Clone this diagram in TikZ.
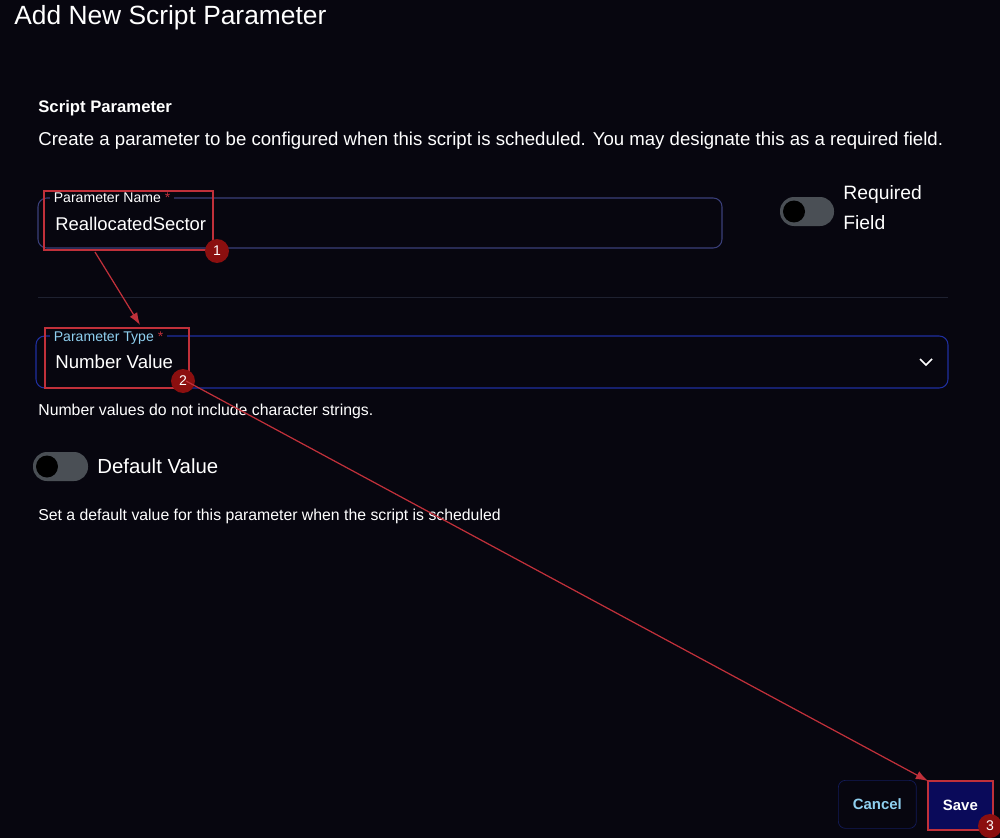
\documentclass[tikz,border=0pt]{standalone}
\usepackage{fontspec}
\setmainfont{Liberation Sans}
\usepackage{xcolor}
\usetikzlibrary{arrows.meta}
\definecolor{bgdark}{HTML}{07060F}
\definecolor{fieldline}{HTML}{3A3F7A}
\definecolor{focusline}{HTML}{1F2FA0}
\definecolor{hlred}{HTML}{C0303A}
\definecolor{badgered}{HTML}{8B0F0F}
\definecolor{togglegray}{HTML}{4A4F55}
\definecolor{labelblue}{HTML}{8FD0F0}
\definecolor{sepline}{HTML}{1E2130}
\definecolor{savefill}{HTML}{0A0A5A}
\tikzset{
  txt/.style={text=white, anchor=west, inner sep=0pt, font=\fontsize{9}{11}\selectfont},
  field/.style={draw=fieldline, rounded corners=5pt, line width=0.6pt},
  hlbox/.style={draw=hlred, line width=1pt},
  badge/.style={circle, fill=badgered, text=white, minimum size=0.48cm, inner sep=0pt, font=\fontsize{8}{9}\selectfont},
  toggle/.style={fill=togglegray, rounded corners=0.28cm},
  knob/.style={circle, fill=black, minimum size=0.44cm, inner sep=0pt},
  redarrow/.style={draw=hlred, line width=0.7pt, -{Latex[length=7pt,width=5pt]}}
}
\begin{document}
\begin{tikzpicture}[x=0.02cm, y=-0.02cm]
\fill[bgdark] (0,0) rectangle (1000,838);
\useasboundingbox (0,0) rectangle (1000,838);

\node (title) [txt, font=\fontsize{15}{17}\selectfont] at (14,18) {Add New Script Parameter};
\node (head) [txt, font=\bfseries\fontsize{9.5}{11}\selectfont] at (38,108) {Script Parameter};
\node (desc) [txt, font=\fontsize{10.6}{12}\selectfont] at (38,141) {Create a parameter to be configured when this script is scheduled. You may designate this as a required field.};

% parameter name
\draw[field] (38,198) rectangle (722,248);
\node (namelbl) [txt, fill=bgdark, inner xsep=2pt, font=\fontsize{8}{9}\selectfont] at (50,198) {Parameter Name \textcolor{hlred}{*}};
\node (nameval) [txt, font=\fontsize{10.5}{12}\selectfont] at (55,224) {ReallocatedSector};
\node (namebox) [hlbox, minimum width=3.38cm, minimum height=1.18cm, anchor=north west] at (43,190) {};
\node (b1) [badge] at (217,251) {1};

\fill[toggle] (780,197) rectangle (834,226);
\node (reqknob) [knob] at (794,211.5) {};
\node (req) [txt, font=\fontsize{11}{17}\selectfont, align=left, anchor=north west] at (843,185) {Required\\Field};

\draw[sepline] (38,297) -- (948,297);

% parameter type
\draw[field, draw=focusline] (36,336) rectangle (948,388);
\node (typelbl) [txt, fill=bgdark, inner xsep=2pt, text=labelblue, font=\fontsize{8}{9}\selectfont] at (50,338) {Parameter Type \textcolor{hlred}{*}};
\node (typeval) [txt, font=\fontsize{10.6}{12}\selectfont] at (55,362) {Number Value};
\draw[white, line width=0.9pt] (920,359) -- (926,365) -- (932,359);
\node (typebox) [hlbox, minimum width=2.88cm, minimum height=1.2cm, anchor=north west] at (44,327) {};
\node (b2) [badge] at (183,381) {2};

\node (hint) [txt, font=\fontsize{9}{10}\selectfont] at (38,411) {Number values do not include character strings.};

\fill[toggle] (33,452) rectangle (88,481);
\node (defknob) [knob] at (47,466.5) {};
\node (defval) [txt, font=\fontsize{11.6}{13}\selectfont] at (97,466) {Default Value};
\node (defhint) [txt, font=\fontsize{9}{10}\selectfont] at (38,516) {Set a default value for this parameter when the script is scheduled};

% buttons
\node (cancel) [draw=focusline!50!bgdark, rounded corners=4pt, minimum width=1.56cm, minimum height=0.96cm, text=labelblue, font=\bfseries\fontsize{8.5}{10}\selectfont, anchor=north west] at (838,780) {Cancel};
\node (save) [fill=savefill, hlbox, minimum width=1.3cm, minimum height=0.98cm, text=white, font=\bfseries\fontsize{8.5}{10}\selectfont, anchor=north west] at (927,780) {Save};
\node (b3) [badge] at (990,826) {3};

\coordinate (a1) at (95,252);
\coordinate (a2) at (140,325);
\coordinate (a3) at (186,381);
\coordinate (a4) at (928,781);
\draw[redarrow] (a1) -- (a2);
\draw[redarrow] (a3) -- (a4);
\end{tikzpicture}
\end{document}
